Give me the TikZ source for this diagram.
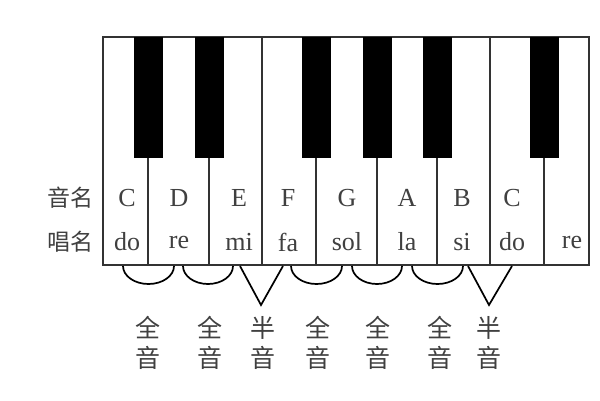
\documentclass[tikz,border=0pt]{standalone}
\usepackage{fontspec}
\setmainfont{Liberation Serif}
\newfontfamily\cjk{Noto Sans CJK SC}
\usepackage{tikz}
\tikzstyle{white key}=[draw=black!80, line width=1.2pt, fill=white]
\tikzstyle{black key}=[fill=black]
\tikzstyle{note}=[text=black!75, font=\fontsize{26}{26}\selectfont]
\tikzstyle{row name}=[text=black!75, font=\cjk\fontsize{23}{23}\selectfont]
\tikzstyle{interval}=[text=black!75, font=\cjk\fontsize{25}{30}\selectfont, align=center]
\tikzstyle{whole}=[line width=1.7pt]
\tikzstyle{half}=[line width=1.7pt]

\begin{document}
\begin{tikzpicture}[x=1pt, y=-1pt]
      \useasboundingbox (0,0) rectangle (600,400);

      % keys
      \foreach \a/\b in {103/148, 148/209, 209/262, 262/316, 316/377, 377/437, 437/490, 490/544, 544/589}{
        \draw[white key] (\a,37) rectangle (\b,265);
      }
      \foreach \c in {148, 209, 316, 377, 437, 544}{
        \fill[black key] (\c-14.5,37) rectangle (\c+14.5,158);
      }

      \node[row name] (noteRow) at (70,198) {音名};
      \node[row name] (singRow) at (70,242) {唱名};

      \foreach \x/\n/\s [count=\i] in {127/C/do, 179/D/re, 239/E/mi, 288/F/fa, 347/G/sol, 407/A/la, 462/B/si, 512/C/do}{
        \node[note] (name\i) at (\x,198) {\n};
        \node[note] (sing\i) at (\x,242) {\s};
      }
      \node[note] (sing9) at (572,242) {re};

      % whole steps
      \foreach \a/\b [count=\i] in {123/174, 183/233, 291/342, 352/402, 412/463}{
        \coordinate (wL\i) at (\a,266);
        \draw[whole] (wL\i) arc[start angle=180, end angle=0, x radius={(\b-\a)/2}, y radius=18];
      }

      % half steps
      \coordinate (hL1) at (240,266);
      \coordinate (hT1) at (261,305);
      \coordinate (hR1) at (283,266);
      \coordinate (hL2) at (468,266);
      \coordinate (hT2) at (489,305);
      \coordinate (hR2) at (512,266);
      \draw[half] (hL1) -- (hT1) -- (hR1);
      \draw[half] (hL2) -- (hT2) -- (hR2);

      \foreach \x/\t [count=\i] in {148/全, 210/全, 263/半, 318/全, 378/全, 440/全, 489/半}{
        \node[interval] (step\i) at (\x,343) {\t\\音};
      }
\end{tikzpicture}
\end{document}
